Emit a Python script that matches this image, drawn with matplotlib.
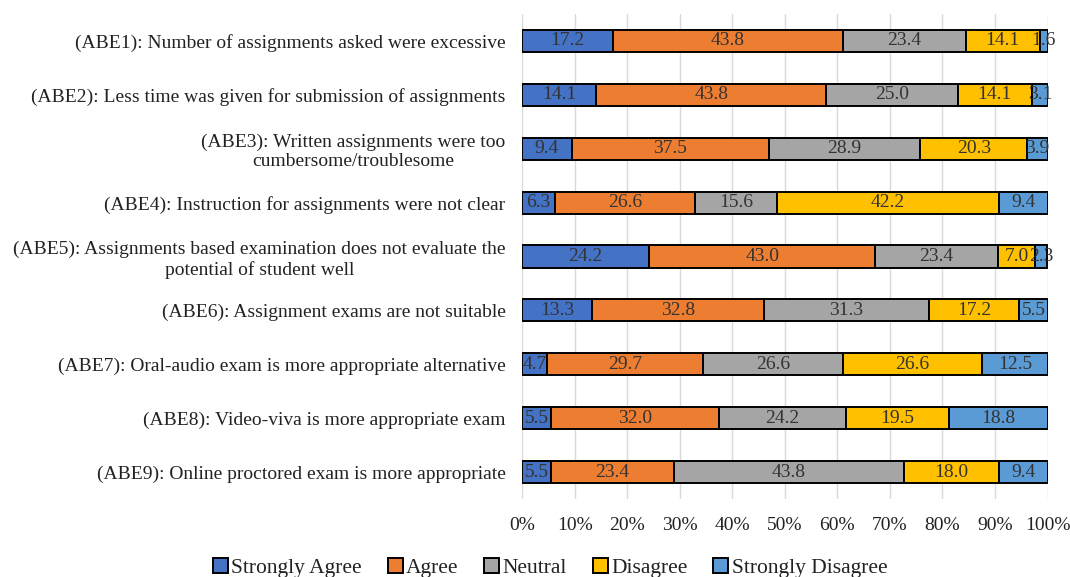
import numpy as np
import matplotlib.pyplot as plt
from matplotlib.ticker import PercentFormatter

plt.rcParams['font.family'] = ['Liberation Serif', 'DejaVu Serif']

labels = [
    '(ABE1): Number of assignments asked were excessive',
    '(ABE2): Less time was given for submission of assignments',
    '(ABE3): Written assignments were too\ncumbersome/troublesome',
    '(ABE4): Instruction for assignments were not clear',
    '(ABE5): Assignments based examination does not evaluate the\npotential of student well',
    '(ABE6): Assignment exams are not suitable',
    '(ABE7): Oral-audio exam is more appropriate alternative',
    '(ABE8): Video-viva is more appropriate exam',
    '(ABE9): Online proctored exam is more appropriate',
]
strongly_agree = [17.2, 14.1, 9.4, 6.3, 24.2, 13.3, 4.7, 5.5, 5.5]
agree = [43.8, 43.8, 37.5, 26.6, 43.0, 32.8, 29.7, 32.0, 23.4]
neutral = [23.4, 25.0, 28.9, 15.6, 23.4, 31.3, 26.6, 24.2, 43.8]
disagree = [14.1, 14.1, 20.3, 42.2, 7.0, 17.2, 26.6, 19.5, 18.0]
strongly_disagree = [1.6, 3.1, 3.9, 9.4, 2.3, 5.5, 12.5, 18.8, 9.4]

series = [
    ('Strongly Agree', strongly_agree, '#4472C4'),
    ('Agree', agree, '#ED7D31'),
    ('Neutral', neutral, '#A5A5A5'),
    ('Disagree', disagree, '#FFC000'),
    ('Strongly Disagree', strongly_disagree, '#5B9BD5'),
]

fig = plt.figure(figsize=(10.7, 5.77), dpi=100)
ax = fig.add_axes([0.488, 0.135, 0.491, 0.841])

y = np.arange(len(labels))
left = np.zeros(len(labels))
for name, vals, col in series:
    vals = np.array(vals)
    ax.barh(y, vals, left=left, height=0.41, color=col,
            edgecolor='black', linewidth=1.4, label=name, zorder=3)
    for yi, l, v in zip(y, left, vals):
        ax.text(l + v / 2, yi, f'{v:.1f}', ha='center', va='center',
                fontsize=14, color='#333333', zorder=4)
    left += vals

ax.set_xlim(0, 100)
ax.set_ylim(len(labels) - 0.5, -0.5)
ax.set_yticks(y)
ax.set_yticklabels(labels, fontsize=14, color='#222222', multialignment='center')
ax.set_xticks(np.arange(0, 101, 10))
ax.xaxis.set_major_formatter(PercentFormatter(decimals=0))
ax.tick_params(axis='x', labelsize=14, colors='#222222', length=0, pad=13)
ax.tick_params(axis='y', length=0, pad=12)
ax.grid(axis='x', color='#D9D9D9', linewidth=1, zorder=0)
for s in ax.spines.values():
    s.set_visible(False)

handles, names = ax.get_legend_handles_labels()
leg = fig.legend(handles, names, loc='lower center', bbox_to_anchor=(0.514, -0.016),
                 ncol=5, frameon=False, fontsize=15.5, handlelength=0.7,
                 handleheight=0.7, handletextpad=0.15, columnspacing=1.2,
                 borderaxespad=0)
for t in leg.get_texts():
    t.set_color('#222222')

fig.savefig('out.png', dpi=100)
